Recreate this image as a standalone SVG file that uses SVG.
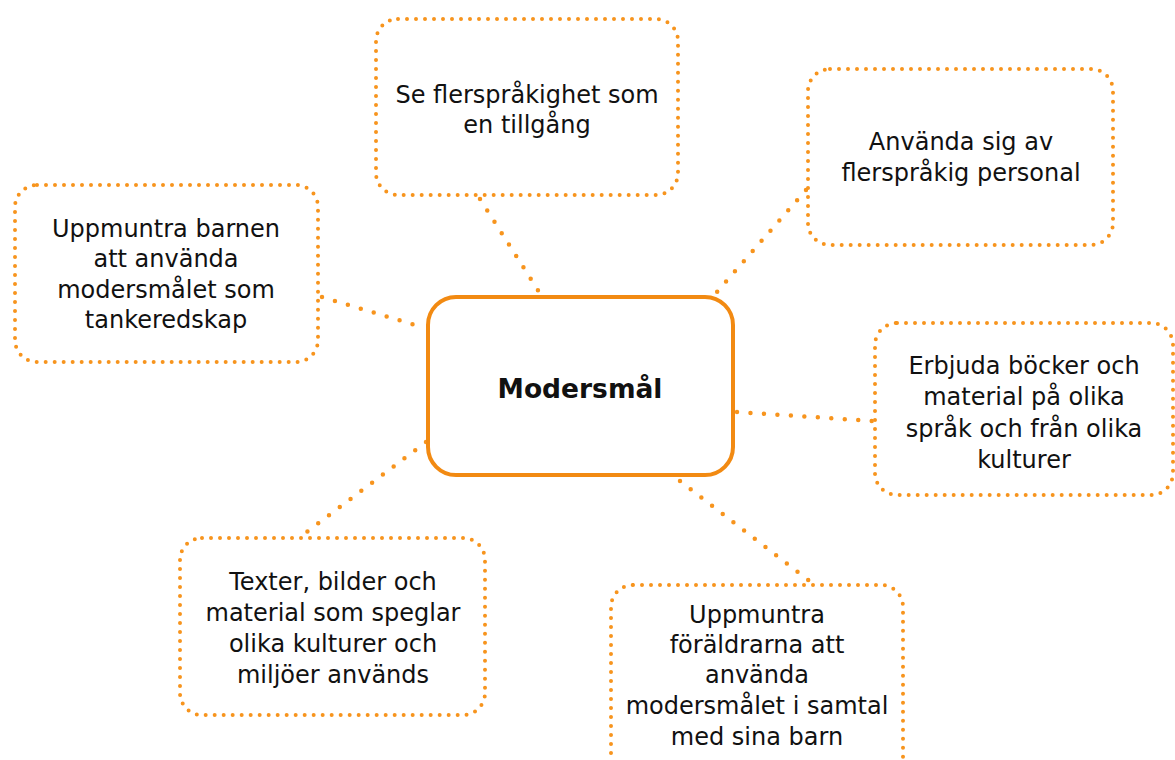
<svg xmlns="http://www.w3.org/2000/svg" width="1175" height="760" viewBox="0 0 1175 760">
<style>
.box{fill:#fff;stroke:#F7941D;stroke-width:4;stroke-dasharray:0 9;stroke-linecap:round}
.main{fill:#fff;stroke:#F28A12;stroke-width:4}
.conn{fill:none;stroke:#F7941D;stroke-width:4.5;stroke-dasharray:0 13.5;stroke-linecap:round}
text{font-family:"DejaVu Sans",sans-serif;font-size:24px;fill:#111;text-anchor:middle}
.title{font-weight:bold;font-size:26.5px}
</style>
<rect width="1175" height="760" fill="#fff"/>
<g id="connectors">
<line class="conn" x1="480" y1="199" x2="541" y2="295"/>
<line class="conn" x1="806" y1="190" x2="716" y2="293"/>
<line class="conn" x1="322" y1="297" x2="425" y2="328"/>
<line class="conn" x1="737" y1="412" x2="873" y2="421"/>
<line class="conn" x1="426" y1="442" x2="300" y2="537"/>
<line class="conn" x1="680" y1="481" x2="812" y2="583"/>
</g>
<g id="center">
<rect class="main" x="428" y="297" width="305" height="178" rx="28"/>
<text class="title" x="580" y="398">Modersmål</text>
</g>
<g id="top">
<rect class="box" x="376" y="19" width="302" height="176" rx="22"/>
<text x="527" y="103">Se flerspråkighet som</text>
<text x="527" y="133">en tillgång</text>
</g>
<g id="topright">
<rect class="box" x="808" y="69" width="305" height="176" rx="22"/>
<text x="961" y="150">Använda sig av</text>
<text x="961" y="181">flerspråkig personal</text>
</g>
<g id="left">
<rect class="box" x="15" y="185" width="303" height="177" rx="22"/>
<text x="166" y="237">Uppmuntra barnen</text>
<text x="166" y="267">att använda</text>
<text x="166" y="298">modersmålet som</text>
<text x="166" y="328">tankeredskap</text>
</g>
<g id="right">
<rect class="box" x="875" y="323" width="298" height="172" rx="22"/>
<text x="1024" y="374">Erbjuda böcker och</text>
<text x="1024" y="405">material på olika</text>
<text x="1024" y="437">språk och från olika</text>
<text x="1024" y="468">kulturer</text>
</g>
<g id="bottomleft">
<rect class="box" x="180" y="538" width="305" height="177" rx="22"/>
<text x="333" y="590">Texter, bilder och</text>
<text x="333" y="621">material som speglar</text>
<text x="333" y="652">olika kulturer och</text>
<text x="333" y="683">miljöer används</text>
</g>
<g id="bottom">
<rect class="box" x="611" y="585" width="292" height="200" rx="22"/>
<text x="757" y="623">Uppmuntra</text>
<text x="757" y="653">föräldrarna att</text>
<text x="757" y="683">använda</text>
<text x="757" y="714">modersmålet i samtal</text>
<text x="757" y="745">med sina barn</text>
</g>
</svg>
